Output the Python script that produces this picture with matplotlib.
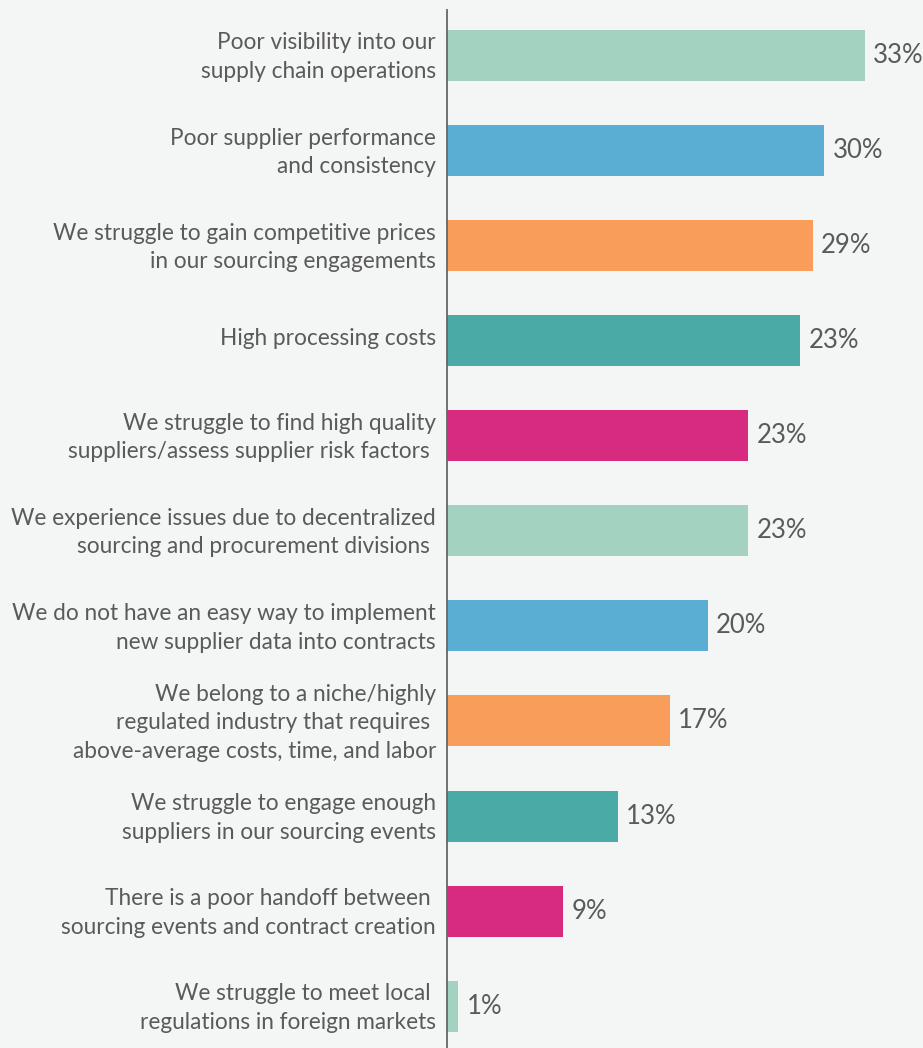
import matplotlib.pyplot as plt
from matplotlib.transforms import ScaledTranslation

# categories, top to bottom
categories = [
    "Poor visibility into our\nsupply chain operations",
    "Poor supplier performance\nand consistency",
    "We struggle to gain competitive prices\nin our sourcing engagements",
    "High processing costs",
    "We struggle to find high quality\nsuppliers/assess supplier risk factors ",
    "We experience issues due to decentralized\nsourcing and procurement divisions ",
    "We do not have an easy way to implement\nnew supplier data into contracts",
    "We belong to a niche/highly\nregulated industry that requires \nabove-average costs, time, and labor",
    "We struggle to engage enough\nsuppliers in our sourcing events",
    "There is a poor handoff between \nsourcing events and contract creation",
    "We struggle to meet local \nregulations in foreign markets",
]
# bar lengths as drawn (in %), and the printed labels
values = [33.0, 29.8, 28.9, 27.9, 23.8, 23.8, 20.6, 17.6, 13.5, 9.2, 0.9]
value_labels = ["33%", "30%", "29%", "23%", "23%", "23%", "20%", "17%", "13%", "9%", "1%"]
colors = ["#A3D3C0", "#5AAED3", "#F89D5A", "#4AAAA5", "#D62B7F",
          "#A3D3C0", "#5AAED3", "#F89D5A", "#4AAAA5", "#D62B7F", "#A3D3C0"]

bg = "#F4F6F5"
txt = "#5a5a5a"
plt.rcParams["font.family"] = ["Lato", "DejaVu Sans"]

fig = plt.figure(figsize=(9.23, 10.48), dpi=100, facecolor=bg)
ax = fig.add_axes([447 / 923, 0, 476 / 923, 1038 / 1048], facecolor=bg)

pos = list(range(len(categories)))
bars = ax.barh(pos, values, height=0.536, color=colors)
ax.bar_label(bars, labels=value_labels, padding=6, fontsize=18.5, color=txt)

ax.set_xlim(0, 476 / 12.66)
ax.set_ylim(10.44, -0.478)
ax.set_yticks(pos)
ax.set_yticklabels(categories, fontsize=16.3, color=txt, linespacing=1.45)
ax.tick_params(axis="y", length=0, pad=8)
ax.set_xticks([])

# nudge the labels up a little so they sit centred on the bars
shift = ScaledTranslation(0, 4 / 100, fig.dpi_scale_trans)
for lab in ax.get_yticklabels():
    lab.set_transform(lab.get_transform() + shift)

for s in ["top", "right", "bottom"]:
    ax.spines[s].set_visible(False)
ax.spines["left"].set_color("#666666")
ax.spines["left"].set_linewidth(1.3)

fig.savefig("out.png", dpi=100, facecolor=bg)
